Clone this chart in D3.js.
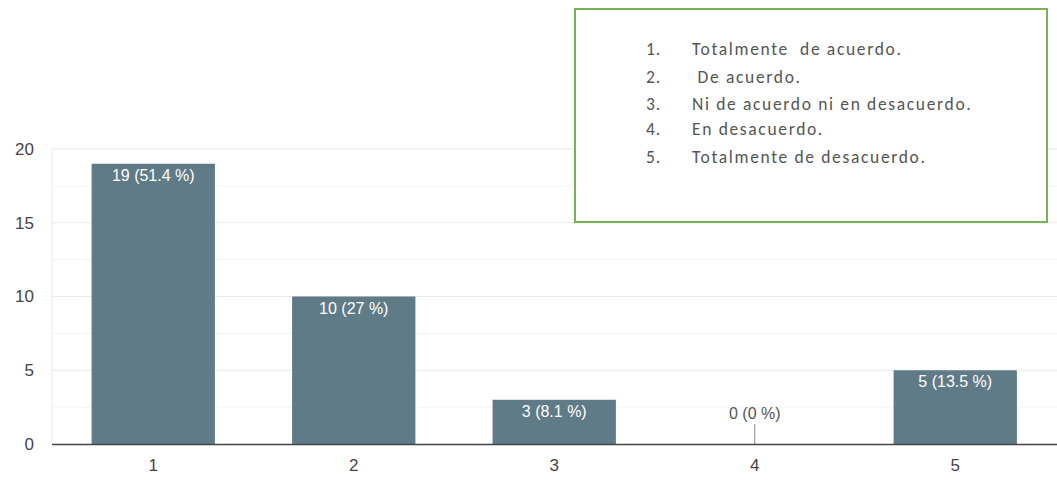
<!DOCTYPE html>
<html>
<head>
<meta charset="utf-8">
<script src="https://cdn.jsdelivr.net/npm/d3@7"></script>
<style>
  html, body { margin: 0; padding: 0; background: #fff; }
  svg { display: block; }
</style>
</head>
<body>
<svg id="chart" width="1057" height="481"></svg>
<script>
// Response counts per answer option
const categories = ["1", "2", "3", "4", "5"];
const counts = [19, 10, 3, 0, 5];
const percents = ["51.4", "27", "8.1", "0", "13.5"];
const yTicks = [0, 5, 10, 15, 20];
const legendNums = ["1.", "2.", "3.", "4.", "5."];
const legendItems = [
  "Totalmente  de acuerdo.",
  " De acuerdo.",
  "Ni de acuerdo ni en desacuerdo.",
  "En desacuerdo.",
  "Totalmente de desacuerdo."
];

const svg = d3.select("#chart");
const plotLeft = 52, plotRight = 1057, plotTop = 149, plotBottom = 444;
const axisFont = "'Liberation Sans', Arial, sans-serif";

const x = d3.scaleBand().domain(categories).range([plotLeft + 1, plotLeft + 1003.5])
  .paddingInner(0.385).paddingOuter(0.1925);
const y = d3.scaleLinear().domain([0, 20]).range([plotBottom, plotTop]);

// minor gridlines
svg.append("g").selectAll("line")
  .data(d3.range(2.5, 20, 5))
  .join("line")
  .attr("x1", plotLeft).attr("x2", plotRight)
  .attr("y1", d => y(d)).attr("y2", d => y(d))
  .attr("stroke", "#f3f3f3").attr("stroke-width", 1);

// major gridlines
svg.append("g").selectAll("line")
  .data(yTicks.filter(d => d > 0))
  .join("line")
  .attr("x1", plotLeft).attr("x2", plotRight)
  .attr("y1", d => y(d)).attr("y2", d => y(d))
  .attr("stroke", "#e8e8e8").attr("stroke-width", 1.2);

svg.append("line")
  .attr("x1", plotLeft).attr("x2", plotLeft)
  .attr("y1", plotTop).attr("y2", plotBottom)
  .attr("stroke", "#ececec");

// y axis labels
const yAxis = d3.axisLeft(y).tickValues(yTicks).tickSize(0).tickPadding(18);
const gy = svg.append("g").attr("transform", `translate(${plotLeft},0)`).call(yAxis);
gy.select(".domain").remove();
gy.selectAll("text")
  .attr("font-family", axisFont)
  .attr("font-size", 17).attr("fill", "#444");

// bars
svg.append("g").selectAll("rect")
  .data(counts)
  .join("rect")
  .attr("x", (d, i) => x(categories[i]))
  .attr("width", x.bandwidth())
  .attr("y", d => y(d))
  .attr("height", d => y(0) - y(d))
  .attr("fill", "#607b88");

// value labels
counts.forEach((d, i) => {
  const cx = x(categories[i]) + x.bandwidth() / 2;
  const label = `${d} (${percents[i]} %)`;
  if (d > 0) {
    svg.append("text")
      .attr("x", cx).attr("y", y(d) + 17)
      .attr("text-anchor", "middle")
      .attr("font-family", axisFont)
      .attr("font-size", 16).attr("fill", "#fff")
      .text(label);
  } else {
    svg.append("line")
      .attr("x1", cx).attr("x2", cx)
      .attr("y1", y(0) - 20).attr("y2", y(0))
      .attr("stroke", "#888").attr("stroke-width", 1);
    svg.append("text")
      .attr("x", cx).attr("y", y(0) - 25)
      .attr("text-anchor", "middle")
      .attr("font-family", axisFont)
      .attr("font-size", 16).attr("fill", "#555")
      .text(label);
  }
});

// x axis
const xAxis = d3.axisBottom(x).tickSize(0).tickPadding(15);
const gx = svg.append("g").attr("transform", `translate(0,${plotBottom})`).call(xAxis);
gx.select(".domain").remove();
gx.selectAll("text")
  .attr("font-family", axisFont)
  .attr("font-size", 17).attr("fill", "#444");
svg.append("line")
  .attr("x1", plotLeft).attr("x2", plotRight)
  .attr("y1", plotBottom + 0.5).attr("y2", plotBottom + 0.5)
  .attr("stroke", "#444").attr("stroke-width", 1.5);

// legend box
const lg = svg.append("g");
lg.append("rect")
  .attr("x", 575).attr("y", 9).attr("width", 472).attr("height", 213)
  .attr("fill", "#fff").attr("stroke", "#77b255").attr("stroke-width", 2);
const rowY = [55, 83, 110, 135, 163];
legendNums.forEach((n, i) => {
  lg.append("text")
    .attr("x", 646).attr("y", rowY[i])
    .attr("font-family", "Carlito, Lato, sans-serif")
    .attr("font-size", 17.5).attr("fill", "#555")
    .attr("letter-spacing", 1)
    .text(n);
  lg.append("text")
    .attr("x", 692).attr("y", rowY[i])
    .attr("font-family", "Carlito, Lato, sans-serif")
    .attr("font-size", 17.5).attr("fill", "#555")
    .attr("letter-spacing", 1.65)
    .attr("xml:space", "preserve")
    .style("white-space", "pre")
    .text(legendItems[i]);
});
</script>
</body>
</html>
